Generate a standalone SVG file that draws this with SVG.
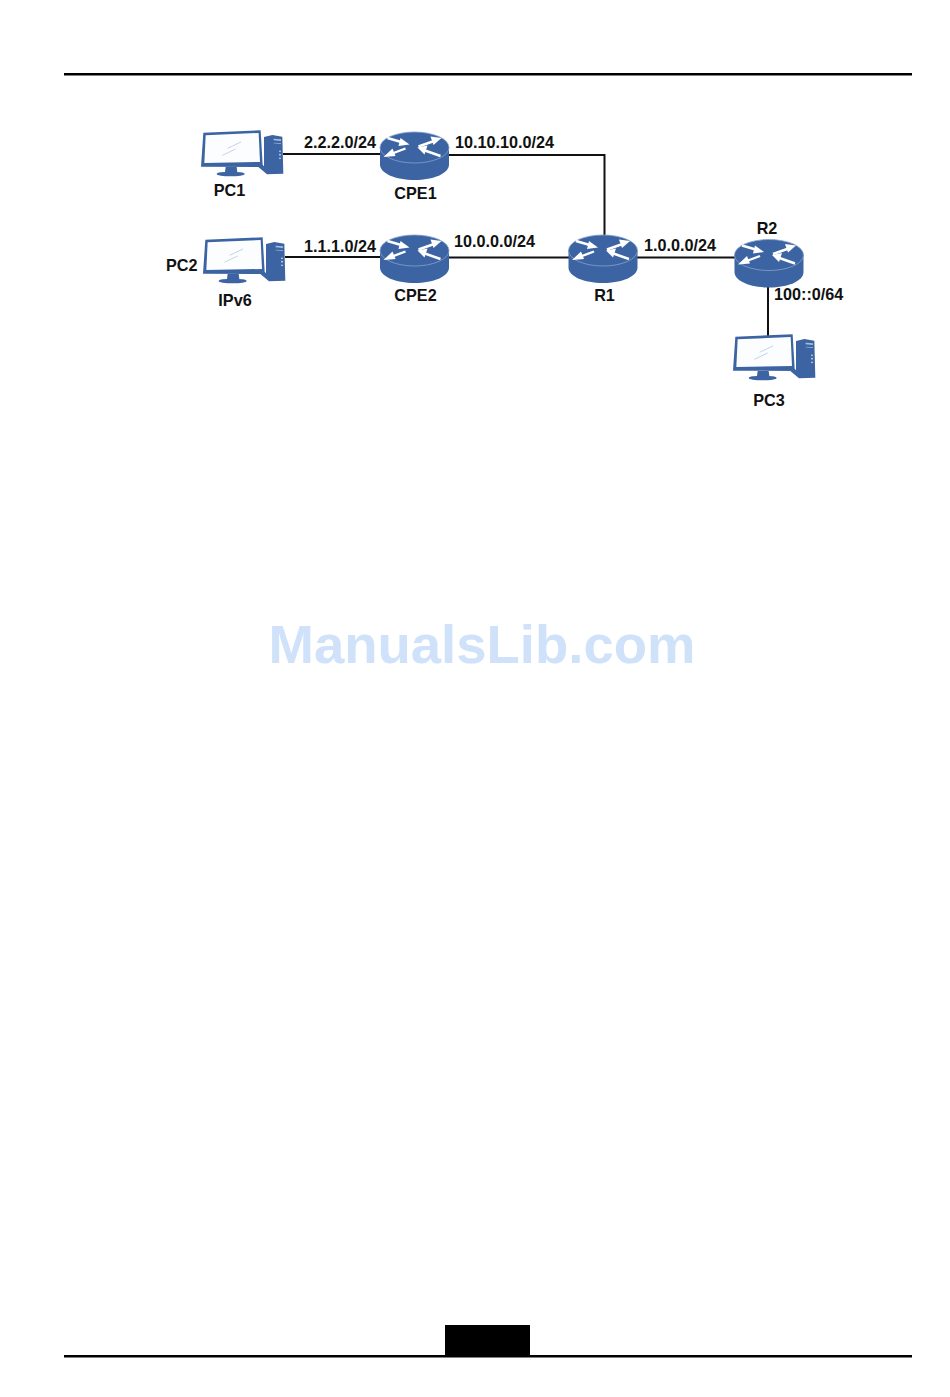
<svg xmlns="http://www.w3.org/2000/svg" width="950" height="1397" viewBox="0 0 950 1397">
<style>
.lbl{font-family:"Liberation Sans",Arial,sans-serif;font-weight:700;font-size:16.200px;fill:#111}
.mid{text-anchor:middle}
.wire{fill:none;stroke:#111;stroke-width:2}
.blue{fill:#3c64a3}
.arrow{fill:none;stroke:#fff;stroke-width:2.400}
.head{fill:#fff}
</style>
<defs>
<g id="router">
<path class="blue" d="M-34.500 0V17C-34.500 26 -19 32.500 0 32.500S34.500 26 34.500 17V0Z"/>
<ellipse cx="0" cy="0" rx="34.500" ry="15.500" fill="#3c64a3" stroke="#88a2cc" stroke-width="0.800"/>
<path class="arrow" d="M-27 -9.500L-10 -4.500"/><polygon class="head" points="-5,-3 -14,-9.500 -16,-1.500"/>
<path class="arrow" d="M-9 1L-25 7"/><polygon class="head" points="-31,9.500 -22,1 -19,8.500"/>
<path class="arrow" d="M4 -1L21 -7"/><polygon class="head" points="27,-9.500 16,-11 19,-2.500"/>
<path class="arrow" d="M26 8.500L9 2.500"/><polygon class="head" points="3,0 13,-2 10,7"/>
</g>
<g id="pc" transform="scale(0.3333)">
<path class="blue" d="M207 45L232 39L262 44L265 155L216 157L190 135L207 135Z"/>
<path d="M236 50L258 52V57L236 55Z M236 62L258 64V66L236 64Z" fill="#a9bedd"/>
<circle cx="255" cy="88" r="2.500" fill="#dbe5f2"/><circle cx="255" cy="98" r="2.500" fill="#dbe5f2"/><circle cx="255" cy="109" r="2.500" fill="#dbe5f2"/>
<path class="blue" d="M25 32L197 25L203 128L209 135L18 134Z"/>
<polygon fill="#fbfdff" points="32,40 191,33 195,120 28,123"/>
<path d="M92 135H125L127 150H90Z" fill="#3c64a3"/>
<ellipse cx="107" cy="156" rx="42" ry="7" class="blue"/>
<path d="M98 79L138 60M82 100L122 81" stroke="#8fa8cf" stroke-width="1.500" fill="none"/>
</g>
</defs>
<rect width="950" height="1397" fill="#fff"/>
<text x="482" y="663" class="mid" font-family="Liberation Sans, Arial, sans-serif" font-weight="700" font-size="54.500" fill="#cfe2fa">ManualsLib.com</text>
<g id="page-rules">
<rect x="64" y="73" width="848" height="2.500" fill="#000"/>
<rect x="64" y="1355" width="848" height="2.500" fill="#000"/>
<rect x="445" y="1325" width="85" height="31" fill="#000"/>
</g>
<g id="connectors">
<path class="wire" d="M283 154H381"/>
<path class="wire" d="M449 155H604.500V237"/>
<path class="wire" d="M285 257H381"/>
<path class="wire" d="M449 257.500H569"/>
<path class="wire" d="M637 257.500H736"/>
<path class="wire" d="M768 285V336"/>
</g>
<g id="PC1"><use href="#pc" x="195" y="122"/><text class="lbl mid" x="229.500" y="196">PC1</text></g>
<g id="PC2"><use href="#pc" x="197" y="229"/><text class="lbl" x="166" y="271">PC2</text><text class="lbl mid" x="235" y="306">IPv6</text></g>
<g id="PC3"><use href="#pc" x="727" y="326"/><text class="lbl mid" x="769" y="406">PC3</text></g>
<g id="CPE1"><use href="#router" x="414.500" y="147.500"/><text class="lbl mid" x="415.500" y="199">CPE1</text></g>
<g id="CPE2"><use href="#router" x="414.500" y="250.500"/><text class="lbl mid" x="415.500" y="301">CPE2</text></g>
<g id="R1"><use href="#router" x="603" y="250.500"/><text class="lbl mid" x="604.500" y="301">R1</text></g>
<g id="R2"><use href="#router" x="769" y="255"/><text class="lbl mid" x="767" y="234">R2</text></g>
<g id="link-labels">
<text class="lbl" x="304" y="148">2.2.2.0/24</text>
<text class="lbl" x="455" y="148">10.10.10.0/24</text>
<text class="lbl" x="304" y="252">1.1.1.0/24</text>
<text class="lbl" x="454" y="247">10.0.0.0/24</text>
<text class="lbl" x="644" y="251">1.0.0.0/24</text>
<text class="lbl" x="774" y="300">100::0/64</text>
</g>
</svg>
